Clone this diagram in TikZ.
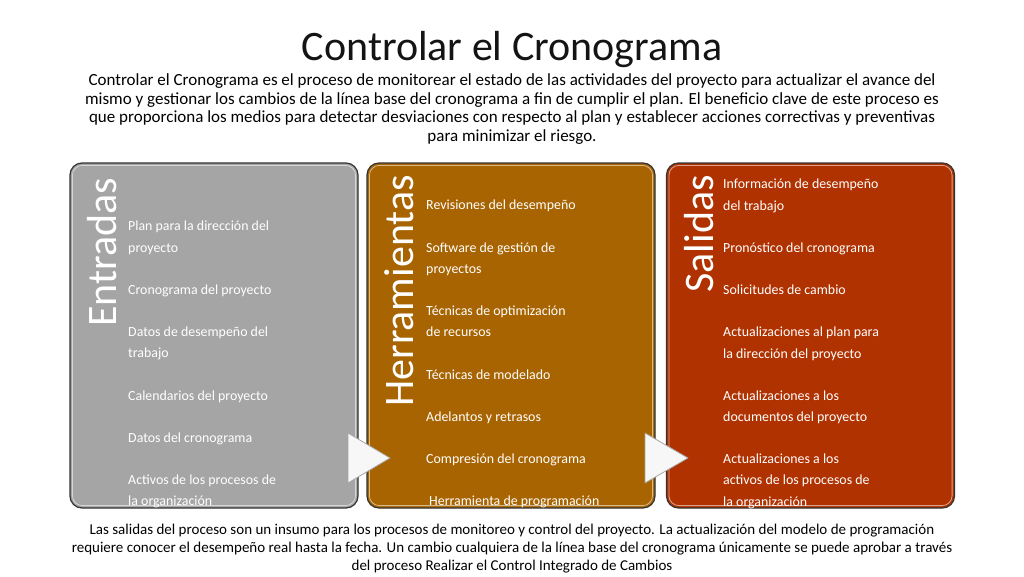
\documentclass[tikz,border=0pt]{standalone}
\usepackage{fontspec}
\setmainfont{Carlito}
\usetikzlibrary{positioning}
\definecolor{entgray}{RGB}{165,165,165}
\definecolor{herbrown}{RGB}{168,100,0}
\definecolor{salred}{RGB}{176,50,0}
\definecolor{txtgray}{RGB}{20,20,20}

\begin{document}
\begin{tikzpicture}[x=1pt,y=-1pt,
  panel/.style={draw=black!80,line width=1.2pt,rounded corners=12pt,
    minimum width=288pt,minimum height=345pt,inner sep=0pt},
  gloss/.style={draw=white,opacity=0.55,line width=0.8pt,rounded corners=10pt},
  header/.style={text=white,font=\fontsize{42}{42}\selectfont,rotate=90,inner sep=0pt},
  items/.style={text=white,font=\fontsize{13.9}{21.15}\selectfont,align=left,inner sep=0pt,anchor=north west},
  pointer/.style={draw=gray!70,fill=white!94!gray,line width=0.8pt,line join=round}]
\useasboundingbox (0,0) rectangle (1024,576);
\fill[white] (0,0) rectangle (1024,576);

% title and description
\node[text=txtgray,font=\fontsize{42}{42}\selectfont] (title) at (512,50) {Controlar el Cronograma};
\node[text=black,font=\fontsize{17}{18.7}\selectfont,align=center,anchor=north] (intro) at (512,70)
  {Controlar el Cronograma es el proceso de monitorear el estado de las actividades del proyecto para actualizar el avance del\\
   mismo y gestionar los cambios de la línea base del cronograma a fin de cumplir el plan. El beneficio clave de este proceso es\\
   que proporciona los medios para detectar desviaciones con respecto al plan y establecer acciones correctivas y preventivas\\
   para minimizar el riesgo.};

% the three panels
\node[panel,fill=entgray] (ent) at (214,335.5) {};
\node[panel,fill=herbrown] (her) at (511,335.5) {};
\node[panel,fill=salred] (sal) at (810.5,335.5) {};
\foreach \p in {ent,her,sal}
  \draw[gloss] ([shift={(3,3)}]\p.north west) rectangle ([shift={(-3,-3)}]\p.south east);

\node[header,anchor=north east] (enthead) at (87,178) {Entradas};
\node[header,anchor=north east] (herhead) at (384,175) {Herramientas};
\node[header,anchor=north east] (salhead) at (684,175) {Salidas};

\node[items] (entlist) at (128,221) {Plan para la dirección del\\proyecto\\[21.15pt]
  Cronograma del proyecto\\[21.15pt]
  Datos de desempeño del\\trabajo\\[21.15pt]
  Calendarios del proyecto\\[21.15pt]
  Datos del cronograma\\[21.15pt]
  Activos de los procesos de\\la organización};
\node[items] (herlist) at (426,200) {Revisiones del desempeño\\[21.15pt]
  Software de gestión de\\proyectos\\[21.15pt]
  Técnicas de optimización\\de recursos\\[21.15pt]
  Técnicas de modelado\\[21.15pt]
  Adelantos y retrasos\\[21.15pt]
  Compresión del cronograma\\[21.15pt]
  \hspace{3pt}Herramienta de programación};
\node[items] (sallist) at (723,179) {Información de desempeño\\del trabajo\\[21.15pt]
  Pronóstico del cronograma\\[21.15pt]
  Solicitudes de cambio\\[21.15pt]
  Actualizaciones al plan para\\la dirección del proyecto\\[21.15pt]
  Actualizaciones a los\\documentos del proyecto\\[21.15pt]
  Actualizaciones a los\\activos de los procesos de\\la organización};

% arrows between panels
\draw[pointer] (348,433) -- (348,483) -- (390,458) -- cycle;
\draw[pointer] (645,433) -- (645,483) -- (688,458) -- cycle;

\node[text=black,font=\fontsize{15}{18}\selectfont,align=center,anchor=north] (outro) at (512,521)
  {Las salidas del proceso son un insumo para los procesos de monitoreo y control del proyecto. La actualización del modelo de programación\\
   requiere conocer el desempeño real hasta la fecha. Un cambio cualquiera de la línea base del cronograma únicamente se puede aprobar a través\\
   del proceso Realizar el Control Integrado de Cambios};
\end{tikzpicture}
\end{document}
